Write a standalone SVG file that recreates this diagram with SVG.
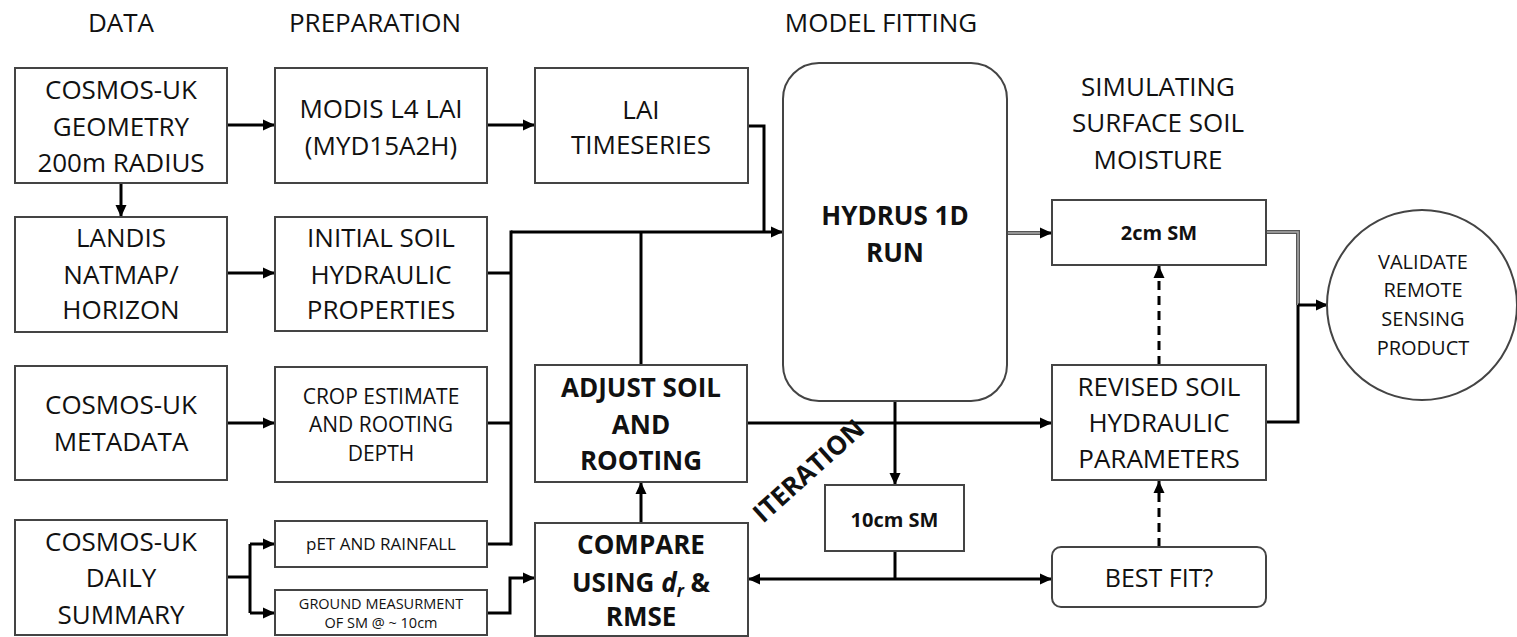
<svg xmlns="http://www.w3.org/2000/svg" width="1517" height="637" viewBox="0 0 1517 637">
<style>
text{font-family:"Open Sans","Liberation Sans",sans-serif;fill:#111;text-anchor:middle}
.t{font-size:26px}
.b{font-size:26px;font-weight:bold}
.box{fill:#fff;stroke:#444;stroke-width:2}
.c{fill:none;stroke:#000;stroke-width:3}
.g{fill:none;stroke:#555;stroke-width:4}
.gi{fill:none;stroke:#aaa;stroke-width:1.5}
.d{fill:none;stroke:#000;stroke-width:3;stroke-dasharray:9,6}
</style>
<defs>
<marker id="a" markerUnits="userSpaceOnUse" markerWidth="13" markerHeight="12" refX="12" refY="6" orient="auto">
<path d="M0,0.5 L12,6 L0,11.5 z" fill="#000"/>
</marker>
</defs>
<rect width="1517" height="637" fill="#fff"/>
<g id="titles">
<text class="t" x="121" y="32">DATA</text>
<text class="t" x="375" y="32">PREPARATION</text>
<text class="t" x="881" y="32">MODEL FITTING</text>
<text class="t" x="1158" y="96">SIMULATING</text>
<text class="t" x="1158" y="132">SURFACE SOIL</text>
<text class="t" x="1158" y="169">MOISTURE</text>
</g>
<g id="connectors">
<path class="c" d="M227 125 H275" marker-end="url(#a)"/>
<path class="c" d="M121 183 V217" marker-end="url(#a)"/>
<path class="c" d="M227 273 H275" marker-end="url(#a)"/>
<path class="c" d="M227 423 H275" marker-end="url(#a)"/>
<path class="c" d="M227 577 H250"/>
<path class="c" d="M250 544 V613"/>
<path class="c" d="M250 544 H275" marker-end="url(#a)"/>
<path class="c" d="M250 613 H275" marker-end="url(#a)"/>
<path class="c" d="M487 125 H535" marker-end="url(#a)"/>
<path class="c" d="M748 126 H764 V232"/>
<path class="c" d="M511 232 H783" marker-end="url(#a)"/>
<path class="c" d="M487 273 H511"/>
<path class="c" d="M511 230.5 V545.5"/>
<path class="c" d="M487 423 H511"/>
<path class="c" d="M487 544 H511"/>
<path class="c" d="M641 365 V232"/>
<path class="c" d="M641 523 V482" marker-end="url(#a)"/>
<path class="c" d="M487 613 H510 V578 H535" marker-end="url(#a)"/>
<path class="c" d="M748 423 H1052" marker-end="url(#a)"/>
<path class="c" d="M895 401 V485" marker-end="url(#a)"/>
<path class="c" d="M895 551 V579"/>
<path class="c" d="M895 579 H748" marker-end="url(#a)"/>
<path class="c" d="M895 579 H1052" marker-end="url(#a)"/>
<path class="g" d="M1007 233 H1042"/>
<path class="gi" d="M1007 233 H1042"/>
<path class="c" d="M1040 233 H1052" marker-end="url(#a)"/>
<path class="c" d="M1266 422 H1298 V305"/>
<path class="g" d="M1266 232 H1298 V305"/>
<path class="gi" d="M1266 232 H1298 V305"/>
<path class="c" d="M1298 305 H1328" marker-end="url(#a)"/>
<path class="d" d="M1159 547 V481" marker-end="url(#a)"/>
<path class="d" d="M1159 365 V266" marker-end="url(#a)"/>
<text class="b" x="808" y="470" dominant-baseline="central" font-size="25" transform="rotate(-42 808 470)">ITERATION</text>
</g>
<g id="n-geometry">
<rect class="box" x="15" y="68" width="212" height="115"/>
<text class="t" x="121" y="99">COSMOS-UK</text>
<text class="t" x="121" y="136">GEOMETRY</text>
<text class="t" x="121" y="172">200m RADIUS</text>
</g>
<g id="n-landis">
<rect class="box" x="15" y="217" width="212" height="115"/>
<text class="t" x="121" y="247">LANDIS</text>
<text class="t" x="121" y="284">NATMAP/</text>
<text class="t" x="121" y="319">HORIZON</text>
</g>
<g id="n-metadata">
<rect class="box" x="15" y="366" width="212" height="114"/>
<text class="t" x="121" y="414">COSMOS-UK</text>
<text class="t" x="121" y="451">METADATA</text>
</g>
<g id="n-daily">
<rect class="box" x="15" y="520" width="212" height="115"/>
<text class="t" x="121" y="551">COSMOS-UK</text>
<text class="t" x="121" y="587">DAILY</text>
<text class="t" x="121" y="624">SUMMARY</text>
</g>
<g id="n-modis">
<rect class="box" x="275" y="68" width="212" height="115"/>
<text class="t" x="381" y="118">MODIS L4 LAI</text>
<text class="t" x="381" y="155">(MYD15A2H)</text>
</g>
<g id="n-initial">
<rect class="box" x="275" y="217" width="212" height="114"/>
<text class="t" x="381" y="247">INITIAL SOIL</text>
<text class="t" x="381" y="284">HYDRAULIC</text>
<text class="t" x="381" y="319">PROPERTIES</text>
</g>
<g id="n-crop">
<rect class="box" x="275" y="367" width="212" height="115"/>
<text x="381" y="403.5" font-size="21">CROP ESTIMATE</text>
<text x="381" y="431.5" font-size="21">AND ROOTING</text>
<text x="381" y="460.5" font-size="21">DEPTH</text>
</g>
<g id="n-pet">
<rect class="box" x="275" y="521" width="212" height="46"/>
<text x="381" y="550" font-size="17">pET AND RAINFALL</text>
</g>
<g id="n-ground">
<rect class="box" x="275" y="590" width="212" height="45"/>
<text x="381" y="609" font-size="14.5">GROUND MEASURMENT</text>
<text x="381" y="628" font-size="14.5">OF SM @ ~ 10cm</text>
</g>
<g id="n-lai">
<rect class="box" x="535" y="68" width="213" height="115"/>
<text class="t" x="641" y="119">LAI</text>
<text class="t" x="641" y="154">TIMESERIES</text>
</g>
<g id="n-adjust">
<rect class="box" x="535" y="365" width="212" height="117"/>
<text class="b" x="641" y="397">ADJUST SOIL</text>
<text class="b" x="641" y="434">AND</text>
<text class="b" x="641" y="470">ROOTING</text>
</g>
<g id="n-compare">
<rect class="box" x="535" y="523" width="213" height="113"/>
<text class="b" x="641" y="554">COMPARE</text>
<text class="b" x="641" y="592">USING <tspan font-style="italic">d</tspan><tspan font-style="italic" font-size="17" dy="5">r</tspan><tspan dy="-5"> &amp;</tspan></text>
<text class="b" x="641" y="626">RMSE</text>
</g>
<g id="n-hydrus">
<rect class="box" x="783" y="63" width="224" height="338" rx="36" ry="36"/>
<text class="b" x="895" y="225">HYDRUS 1D</text>
<text class="b" x="895" y="262">RUN</text>
</g>
<g id="n-10cm">
<rect class="box" x="825" y="485" width="139" height="66"/>
<text x="894.5" y="527" font-size="20" font-weight="bold">10cm SM</text>
</g>
<g id="n-2cm">
<rect class="box" x="1052" y="200" width="214" height="65"/>
<text x="1159" y="240" font-size="20" font-weight="bold">2cm SM</text>
</g>
<g id="n-revised">
<rect class="box" x="1052" y="365" width="214" height="115"/>
<text class="t" x="1159" y="396">REVISED SOIL</text>
<text class="t" x="1159" y="432">HYDRAULIC</text>
<text class="t" x="1159" y="468">PARAMETERS</text>
</g>
<g id="n-bestfit">
<rect class="box" x="1052" y="547" width="214" height="60" rx="9" ry="9"/>
<text x="1159" y="587" font-size="25">BEST FIT?</text>
</g>
<g id="n-validate">
<circle class="box" cx="1422" cy="305" r="95"/>
<text x="1423" y="269" font-size="20">VALIDATE</text>
<text x="1423" y="297" font-size="20">REMOTE</text>
<text x="1423" y="326" font-size="20">SENSING</text>
<text x="1423" y="355" font-size="20">PRODUCT</text>
</g>
</svg>
